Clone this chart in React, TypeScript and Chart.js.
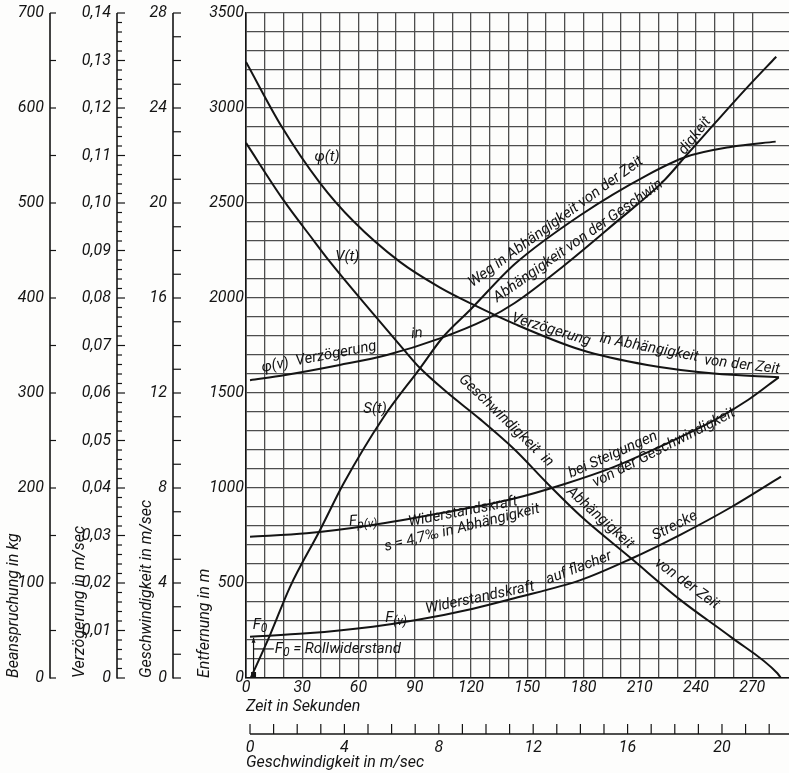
import React, { useEffect, useRef } from 'react';
import { Chart, registerables } from 'chart.js';

Chart.register(...registerables);

// ---------------- data ----------------
const timeLabels = [0, 30, 60, 90, 120, 150, 180, 210, 240, 270];
const speedAxisTicks = [0, 1, 2, 3, 4, 5, 6, 7, 8, 9, 10, 11, 12, 13, 14, 15, 16, 17, 18, 19, 20, 21, 22];
const speedAxisLabels = [0, 4, 8, 12, 16, 20];
const distanceLabels = [0, 500, 1000, 1500, 2000, 2500, 3000, 3500];
const speedLabels = [0, 4, 8, 12, 16, 20, 24, 28];
const decelLabels = [0, 0.01, 0.02, 0.03, 0.04, 0.05, 0.06, 0.07, 0.08, 0.09, 0.1, 0.11, 0.12, 0.13, 0.14];
const forceLabels = [0, 100, 200, 300, 400, 500, 600, 700];

// S(t): distance (m) vs time (s)
const sTime = [2.5, 12.8, 23.5, 39.5, 51.9, 73.2, 92.8, 105.2, 119.5, 143.5, 178.5, 214, 234.5, 258.5, 282.5];
const sDist = [0, 226, 480, 779, 1021, 1370, 1630, 1796, 1937, 2180, 2437, 2647, 2742, 2795, 2823];

// V(t): speed (m/s) vs time (s)
const vTime = [0, 19.9, 35.9, 44.8, 67.9, 83.9, 92.8, 107, 124.8, 143.5, 160.5, 178.5, 205.2, 231.8, 258.5, 283.4, 285.3];
const vSpeed = [22.53, 20.13, 18.44, 17.52, 15.33, 13.85, 13.05, 12.04, 10.9, 9.6, 8.21, 6.82, 5.05, 3.28, 1.73, 0.2, 0];

// φ(t): deceleration vs time
const phiTime = [0, 19, 39.5, 57.2, 82.1, 103.5, 121.2, 143.5, 178.5, 214, 249.6, 284.3];
const phiT = [0.1297, 0.1161, 0.1042, 0.0962, 0.0876, 0.0822, 0.0786, 0.0745, 0.0691, 0.0659, 0.0641, 0.0633];

// φ(v): deceleration vs speed
const phiSpeed = [0, 1.5, 3.8, 5.8, 8.05, 10.0, 11.2, 13.3, 15.4, 17.5, 18.5, 19.7, 21.1, 22.3];
const phiV = [0.0627, 0.0638, 0.0659, 0.068, 0.0715, 0.0755, 0.0789, 0.0868, 0.0955, 0.1045, 0.1101, 0.1168, 0.1245, 0.1308];

// Fp(v): resistance on gradient (kg) vs speed
const fpSpeed = [0, 2.4, 5.2, 8.05, 11.2, 13.3, 15.4, 17.5, 19.7, 21.1, 22.4];
const fpForce = [148.7, 152.3, 161, 173.4, 189, 204, 222, 245, 271.6, 292.6, 316.5];

// F(v): resistance on level track (kg) vs speed
const fSpeed = [0, 2.4, 5.2, 7.05, 9.45, 11.2, 14.0, 16.1, 18.25, 20.4, 22.5];
const fForce = [43.5, 47, 54, 61, 73, 84, 103, 125, 151, 180, 212];

const rollSpeed = 0.15; // where the F0 dimension arrow sits (m/s)

// ---------------- styles ----------------
const INK = '#141414';
const GRID = '#4d4d4d';
const PAPER = '#fdfdfc';
const FONT = 'Roboto, "DejaVu Sans", sans-serif';

type Part = [string, number];
interface CurveLabel { parts: Part[]; t: number; s: number; a: number; size?: number; }

const curveLabels: CurveLabel[] = [
  { parts: [['φ(t)', 0]], t: 43.2, s: 2742, a: 0 },
  { parts: [['V(t)', 0]], t: 54, s: 2216, a: 0 },
  { parts: [['S(t)', 0]], t: 68.8, s: 1416, a: 0 },
  { parts: [['φ(v)  Verzögerung', 0]], t: 39, s: 1689, a: -11 },
  { parts: [['in', 0]], t: 91.2, s: 1811, a: -5 },
  { parts: [['Weg in Abhängigkeit von der Zeit', 0]], t: 165.3, s: 2400, a: -36 },
  { parts: [['Abhängigkeit von der Geschwin-', 0]], t: 178.1, s: 2305, a: -35 },
  { parts: [['digkeit', 0]], t: 239.5, s: 2853, a: -52 },
  { parts: [['Verzögerung', 0]], t: 162.7, s: 1832, a: 17 },
  { parts: [['in Abhängigkeit', 0]], t: 215, s: 1737, a: 11 },
  { parts: [['von der Zeit', 0]], t: 264.5, s: 1647, a: 7 },
  { parts: [['Geschwindigkeit  in', 0]], t: 138.7, s: 1353, a: 44 },
  { parts: [['Abhängigkeit', 0]], t: 188.8, s: 842, a: 42 },
  { parts: [['von der Zeit', 0]], t: 235.2, s: 495, a: 36 },
  { parts: [['Widerstandskraft', 0]], t: 115.7, s: 874, a: -11 },
  { parts: [['bei Steigungen', 0]], t: 195.7, s: 1174, a: -24 },
  { parts: [['s = 4,7‰ in Abhängigkeit', 0]], t: 115.2, s: 789, a: -14 },
  { parts: [['von der Geschwindigkeit', 0]], t: 222.9, s: 1211, a: -27 },
  { parts: [['F', 0], ['p(v)', 1]], t: 62.4, s: 826, a: -4 },
  { parts: [['F', 0], ['(v)', 1]], t: 80, s: 316, a: 0 },
  { parts: [['Widerstandskraft', 0]], t: 124.8, s: 421, a: -12 },
  { parts: [['auf flacher', 0]], t: 177.6, s: 579, a: -21 },
  { parts: [['Strecke', 0]], t: 228.8, s: 800, a: -27 },
  { parts: [['F', 0], ['0', 1]], t: 7.5, s: 279, a: 0 },
  { parts: [['F', 0], ['0', 1], [' = Rollwiderstand', 0]], t: 49, s: 153, a: 0 },
];

const zip = (xs: number[], ys: number[]) => xs.map((x, i) => ({ x, y: ys[i] }));
const near = (list: number[], v: number, f = 1000) => list.some((d) => Math.round(d * f) === Math.round(v * f));
const tickFont = { family: FONT, size: 16, style: 'italic' as const };
const titleFont = { family: FONT, size: 16, style: 'italic' as const };

function line(ctx: CanvasRenderingContext2D, x1: number, y1: number, x2: number, y2: number) {
  ctx.beginPath();
  ctx.moveTo(x1, y1);
  ctx.lineTo(x2, y2);
  ctx.stroke();
}

const fitTo = (w: number | null, h: number | null) => (s: any) => {
  if (w !== null) s.width = w;
  if (h !== null) s.height = h;
  s.paddingTop = 0;
  s.paddingBottom = 0;
  s.paddingLeft = 0;
  s.paddingRight = 0;
};

const paperPlugin = {
  id: 'paper',
  beforeDraw(chart: any) {
    const { ctx, width, height } = chart;
    ctx.save();
    ctx.fillStyle = PAPER;
    ctx.fillRect(0, 0, width, height);
    ctx.restore();
  },
};

const axisDecoPlugin = {
  id: 'axisDeco',
  afterDraw(chart: any) {
    const ctx: CanvasRenderingContext2D = chart.ctx;
    ctx.save();
    ctx.strokeStyle = INK;
    const sides = [
      { id: 'yF', off: 10, len: (_v: number) => 6 },
      {
        id: 'yPhi', off: 13, len: (v: number) => {
          const k = Math.round(v * 1000);
          return k % 10 === 0 ? 8 : 5;
        },
      },
      { id: 'yV', off: 17, len: (_v: number) => 8 },
    ];
    for (const s of sides) {
      const sc = chart.scales[s.id];
      const x = sc.right - s.off;
      ctx.lineWidth = 1.6;
      line(ctx, x, sc.top, x, sc.bottom + 0.5);
      ctx.lineWidth = 1.2;
      for (const t of sc.ticks) {
        const y = sc.getPixelForValue(t.value);
        line(ctx, x, y, x + s.len(t.value), y);
      }
    }
    // speed axis below the time axis
    const xv = chart.scales.xv;
    const yl = xv.top + 14;
    ctx.lineWidth = 1.5;
    line(ctx, xv.getPixelForValue(0), yl, xv.right, yl);
    ctx.lineWidth = 1.2;
    for (const t of xv.ticks) {
      const x = xv.getPixelForValue(t.value);
      line(ctx, x, yl, x, yl - 10);
    }
    ctx.restore();
  },
};

const labelPlugin = {
  id: 'curveLabels',
  afterDatasetsDraw(chart: any) {
    const ctx: CanvasRenderingContext2D = chart.ctx;
    const xs = chart.scales.x;
    const ys = chart.scales.yS;
    ctx.save();
    ctx.fillStyle = INK;
    ctx.textBaseline = 'middle';
    ctx.textAlign = 'left';
    let rollLeft = 0;
    let rollY = 0;
    curveLabels.forEach((lab, idx) => {
      const size = lab.size || 15;
      const subSize = Math.round(size * 0.82);
      const widths = lab.parts.map(([txt, sub]) => {
        ctx.font = `italic ${sub ? subSize : size}px ${FONT}`;
        return ctx.measureText(txt).width;
      });
      const total = widths.reduce((a, b) => a + b, 0);
      const px = xs.getPixelForValue(lab.t);
      const py = ys.getPixelForValue(lab.s);
      ctx.save();
      ctx.translate(px, py);
      ctx.rotate((lab.a * Math.PI) / 180);
      let cx = -total / 2;
      lab.parts.forEach(([txt, sub], i) => {
        ctx.font = `italic ${sub ? subSize : size}px ${FONT}`;
        ctx.fillText(txt, cx, sub ? size * 0.25 : 0);
        cx += widths[i];
      });
      ctx.restore();
      if (idx === curveLabels.length - 1) {
        rollLeft = px - total / 2;
        rollY = py;
      }
    });
    // F0 dimension arrow
    const xv = chart.scales.xv;
    const yF = chart.scales.yF;
    const ax = xv.getPixelForValue(rollSpeed);
    const y0 = yF.getPixelForValue(0);
    const y1 = yF.getPixelForValue(fForce[0]);
    ctx.strokeStyle = INK;
    ctx.lineWidth = 1.2;
    line(ctx, ax, y0 - 1, ax, y1 + 1);
    ctx.beginPath();
    ctx.moveTo(ax, y1 + 1); ctx.lineTo(ax - 2, y1 + 6); ctx.lineTo(ax + 2, y1 + 6); ctx.closePath(); ctx.fill();
    ctx.fillRect(ax - 2.5, y0 - 6, 5, 5);
    line(ctx, ax, rollY, rollLeft - 1, rollY);
    ctx.restore();
  },
};

function makeConfig(): any {
  const ds = (data: any[], xAxisID: string, yAxisID: string, label: string) => ({
    label, data, xAxisID, yAxisID,
    borderColor: INK, borderWidth: 2, pointRadius: 0, fill: false,
    cubicInterpolationMode: 'monotone',
  });
  return {
    type: 'line',
    data: {
      datasets: [
        ds(zip(sTime, sDist), 'x', 'yS', 'S(t)'),
        ds(zip(vTime, vSpeed), 'x', 'yV', 'V(t)'),
        ds(zip(phiTime, phiT), 'x', 'yPhi', 'φ(t)'),
        ds(zip(phiSpeed, phiV), 'xv', 'yPhi', 'φ(v)'),
        ds(zip(fpSpeed, fpForce), 'xv', 'yF', 'Fp(v)'),
        ds(zip(fSpeed, fForce), 'xv', 'yF', 'F(v)'),
      ],
    },
    plugins: [paperPlugin, axisDecoPlugin, labelPlugin],
    options: {
      responsive: false,
      animation: false,
      devicePixelRatio: 1,
      events: [],
      layout: { padding: { top: 13, left: 0, right: 0, bottom: 0 } },
      plugins: { legend: { display: false }, tooltip: { enabled: false } },
      scales: {
        x: {
          type: 'linear', position: 'bottom', weight: 0, min: 0, max: 289.6,
          ticks: {
            stepSize: 10, autoSkip: false, maxRotation: 0, minRotation: 0, padding: 0,
            color: INK, font: tickFont,
            callback: (v: number) => (near(timeLabels, v) ? String(v) : ''),
          },
          grid: {
            drawTicks: false, lineWidth: 1.3,
            color: (c: any) => (c.tick && Math.abs(c.tick.value / 10 - Math.round(c.tick.value / 10)) < 1e-6 ? GRID : 'rgba(0,0,0,0)'),
          },
          border: { display: true, color: INK, width: 1.5 },
          title: { display: true, text: 'Zeit in Sekunden', align: 'start', color: INK, font: titleFont, padding: { top: 0, bottom: 3 } },
          afterFit: fitTo(null, 42),
        },
        xv: {
          type: 'linear', position: 'bottom', weight: 1, min: -0.17, max: 22.84,
          afterBuildTicks: (s: any) => { s.ticks = speedAxisTicks.map((v) => ({ value: v })); },
          ticks: {
            autoSkip: false, maxRotation: 0, minRotation: 0, padding: 18,
            color: INK, font: tickFont,
            callback: (v: number) => (near(speedAxisLabels, v) ? String(v) : ''),
          },
          grid: { display: false, drawTicks: false },
          border: { display: false },
          title: { display: true, text: 'Geschwindigkeit in m/sec', align: 'start', color: INK, font: titleFont, padding: { top: 0, bottom: 0 } },
          afterFit: fitTo(null, 53),
        },
        yS: {
          type: 'linear', position: 'left', weight: 1, min: 0, max: 3500,
          ticks: {
            stepSize: 100, autoSkip: false, padding: 2, color: INK, font: tickFont,
            callback: (v: number) => (near(distanceLabels, v) ? String(v) : ''),
          },
          grid: { drawTicks: false, color: GRID, lineWidth: 1.3 },
          border: { display: true, color: INK, width: 1.6 },
          title: { display: true, text: 'Entfernung in m', align: 'start', color: INK, font: titleFont, padding: { top: 5, bottom: 0 } },
          afterFit: fitTo(56, null),
        },
        yV: {
          type: 'linear', position: 'left', weight: 2, min: 0, max: 28,
          ticks: {
            stepSize: 1, autoSkip: false, padding: 23, color: INK, font: tickFont,
            callback: (v: number) => (near(speedLabels, v) ? String(v) : ''),
          },
          grid: { display: false, drawTicks: false },
          border: { display: false },
          title: { display: true, text: 'Geschwindigkeit in m/sec', align: 'start', color: INK, font: titleFont, padding: { top: 7, bottom: 0 } },
          afterFit: fitTo(60, null),
        },
        yPhi: {
          type: 'linear', position: 'left', weight: 3, min: 0, max: 0.14,
          ticks: {
            stepSize: 0.002, autoSkip: false, padding: 19, color: INK, font: tickFont,
            callback: (v: number) => {
              if (!near(decelLabels, v)) return '';
              return Math.round(v * 1000) === 0 ? '0' : v.toFixed(2).replace('.', ',');
            },
          },
          grid: { display: false, drawTicks: false },
          border: { display: false },
          title: { display: true, text: 'Verzögerung in m/sec', align: 'start', color: INK, font: titleFont, padding: { top: 10, bottom: 0 } },
          afterFit: fitTo(70, null),
        },
        yF: {
          type: 'linear', position: 'left', weight: 4, min: 0, max: 700,
          ticks: {
            stepSize: 50, autoSkip: false, padding: 16, color: INK, font: tickFont,
            callback: (v: number) => (near(forceLabels, v) ? String(v) : ''),
          },
          grid: { display: false, drawTicks: false },
          border: { display: false },
          title: { display: true, text: 'Beanspruchung in kg', align: 'start', color: INK, font: titleFont, padding: { top: 4, bottom: 0 } },
          afterFit: fitTo(60, null),
        },
      },
    },
  };
}

export default function App() {
  const ref = useRef<HTMLCanvasElement>(null);
  useEffect(() => {
    document.body.style.margin = '0';
    const chart = new Chart(ref.current as HTMLCanvasElement, makeConfig());
    return () => chart.destroy();
  }, []);
  return (
    <div style={{ width: 789, height: 773 }}>
      <canvas ref={ref} width={789} height={773} style={{ display: 'block' }} />
    </div>
  );
}
